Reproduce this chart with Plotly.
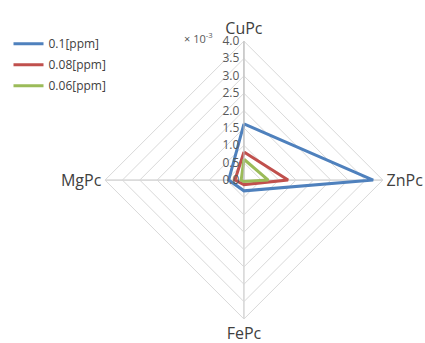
import plotly.graph_objects as go

# Sensor response per phthalocyanine (×10^-3)
categories = ["CuPc", "ZnPc", "FePc", "MgPc"]
series_names = ["0.1[ppm]", "0.08[ppm]", "0.06[ppm]"]
resp_01 = [1.62, 3.72, 0.31, 0.44]
resp_008 = [0.81, 1.27, 0.13, 0.26]
resp_006 = [0.60, 0.70, 0.04, 0.08]
tick_vals = [0.0, 0.5, 1.0, 1.5, 2.0, 2.5, 3.0, 3.5, 4.0]

colors = ["#4f81bd", "#c0504d", "#9bbb59"]

fig = go.Figure()
for name, vals, col in zip(series_names, [resp_01, resp_008, resp_006], colors):
    fig.add_trace(go.Scatterpolar(
        r=vals + vals[:1],
        theta=categories + categories[:1],
        mode="lines",
        name=name,
        legendgroup=name,
        line=dict(color=col, width=3),
    ))

fig.update_layout(
    width=425, height=343,
    margin=dict(l=0, r=0, t=0, b=0),
    paper_bgcolor="white",
    plot_bgcolor="white",
    font=dict(family="Open Sans, Arial, sans-serif", color="#404040"),
    polar=dict(
        domain=dict(x=[0.247, 0.901], y=[0.070, 0.880]),
        gridshape="linear",
        bgcolor="white",
        radialaxis=dict(
            range=[0, 4],
            tickvals=tick_vals,
            tickformat=".1f",
            # horizontal labels, pushed to the left of the vertical spoke
            ticksuffix="\u2002" * 11,
            angle=90,
            tickangle=90,
            side="counterclockwise",
            showline=True,
            linecolor="#bfbfbf",
            gridcolor="#d9d9d9",
            ticks="",
            tickfont=dict(size=12, color="#595959"),
        ),
        angularaxis=dict(
            rotation=90,
            direction="clockwise",
            showline=True,
            linecolor="#d9d9d9",
            gridcolor="#bfbfbf",
            ticks="",
            tickfont=dict(size=16, color="#404040"),
        ),
    ),
    legend=dict(
        x=0.02, y=0.915, xanchor="left", yanchor="top",
        font=dict(size=12, color="#404040"),
        bgcolor="rgba(0,0,0,0)",
        tracegroupgap=2,
    ),
    annotations=[dict(
        text="× 10<sup>-3</sup>", x=198 / 425, y=1 - 28 / 343,
        xref="paper", yref="paper", showarrow=False,
        font=dict(size=11, color="#595959"),
    )],
)

fig.write_html("out.html")
